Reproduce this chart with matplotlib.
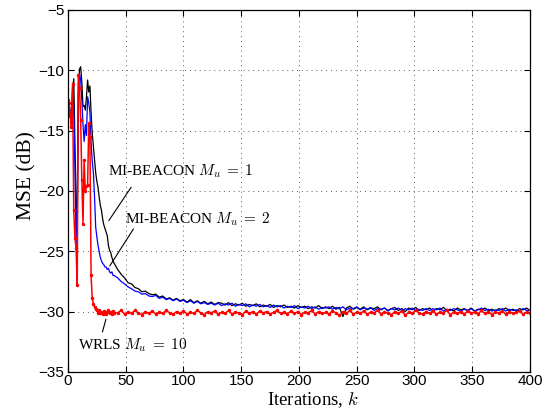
import numpy as np
import matplotlib
matplotlib.use("Agg")
import matplotlib.pyplot as plt

# iteration indices: every iteration for the transient, every 3rd for the tail
k_early = np.arange(0, 41)
k_tail = np.arange(43, 401, 3)
k = np.concatenate([k_early, k_tail])

# MI-BEACON, M_u = 1 (black)
mse_beacon1 = [
    -12.5, -12.8, -13.6, -14.5, -11.5, -10.7, -16.0, -20.5, -23.0, -12.0,
    -9.9, -9.7, -11.0, -13.0, -12.9, -13.3, -12.2, -10.8, -11.8, -11.3,
    -13.5, -15.2, -16.3, -17.4, -18.5, -19.2, -19.7, -20.5, -21.2, -21.6,
    -22.3, -22.8, -23.1, -23.4, -23.7, -24.5, -24.9, -25.1, -25.5, -25.8,
    -26.0,
    -26.5, -26.9, -27.2, -27.6, -27.7, -28.0, -28.1, -28.35, -28.3, -28.5,
    -28.6, -28.55, -28.8, -28.7, -28.95, -28.85, -29.05, -28.9, -29.1, -29.0,
    -29.2, -29.0, -29.25, -29.1, -29.3, -29.15, -29.35, -29.2, -29.4, -29.25,
    -29.3, -29.45, -29.25, -29.5, -29.35, -29.45, -29.3, -29.55, -29.4, -29.5,
    -29.35, -29.6, -29.45, -29.55, -29.4, -29.65, -29.5, -29.6, -29.45, -29.65,
    -29.55, -29.7, -29.5, -29.65, -29.55, -29.75, -29.6, -29.7, -29.5, -29.75,
    -29.6, -29.75, -29.55, -29.8, -29.65, -30.4, -29.7, -29.55, -29.8, -29.65,
    -29.8, -29.6, -29.85, -29.7, -29.75, -29.6, -29.85, -29.7, -29.9, -29.75,
    -29.65, -29.9, -29.75, -30.0, -29.7, -29.85, -29.65, -29.9, -29.75, -29.85,
    -29.7, -29.95, -29.75, -29.85, -29.65, -29.9, -29.8, -29.95, -29.7, -29.85,
    -29.75, -29.9, -29.7, -29.95, -29.8, -29.85, -29.7, -29.9, -29.8, -29.95,
    -29.75, -29.85, -29.7, -29.9, -29.8, -29.95, -29.75, -29.85, -29.7, -29.9,
]

# MI-BEACON, M_u = 2 (blue)
mse_beacon2 = [
    -12.5, -12.7, -13.8, -14.5, -11.3, -13.0, -18.0, -24.5, -21.0, -11.0,
    -10.3, -10.8, -12.5, -14.5, -15.9, -14.5, -15.4, -12.2, -12.7, -13.5,
    -16.0, -17.5, -18.5, -20.5, -23.0, -23.8, -24.5, -25.0, -25.5, -25.8,
    -26.0, -26.1, -26.3, -26.3, -26.5, -26.4, -26.7, -26.8, -26.7, -27.0,
    -27.0,
    -27.2, -27.5, -27.7, -27.95, -28.1, -28.3, -28.35, -28.55, -28.5, -28.7,
    -28.75, -28.65, -28.9, -28.8, -29.0, -28.9, -29.1, -28.95, -29.15, -29.05,
    -29.25, -29.1, -29.3, -29.15, -29.35, -29.25, -29.4, -29.3, -29.45, -29.3,
    -29.5, -29.35, -29.45, -29.3, -29.55, -29.4, -29.5, -29.35, -29.6, -29.45,
    -29.55, -29.4, -29.6, -29.5, -29.65, -29.45, -29.6, -29.5, -29.7, -29.55,
    -29.65, -29.5, -29.75, -29.6, -29.7, -29.55, -29.75, -29.6, -29.8, -29.65,
    -29.7, -29.6, -29.8, -29.65, -29.75, -29.6, -29.85, -29.7, -29.75, -29.6,
    -29.85, -29.7, -29.8, -29.65, -29.9, -29.75, -29.8, -29.7, -29.95, -29.75,
    -29.85, -29.7, -29.9, -29.75, -29.85, -29.7, -29.95, -29.8, -29.9, -29.75,
    -29.9, -29.75, -29.85, -29.7, -29.95, -29.8, -29.9, -29.75, -29.85, -29.95,
    -29.8, -29.9, -29.75, -29.95, -29.85, -29.7, -29.9, -29.8, -29.95, -29.85,
    -29.9, -29.75, -29.95, -29.8, -29.9, -29.85, -29.95, -29.75, -29.9, -29.85,
]

# WRLS, M_u = 10 (red)
mse_wrls = [
    -12.5, -12.7, -13.8, -14.7, -11.1, -21.6, -23.9, -24.7, -27.8, -10.4,
    -11.5, -14.1, -19.1, -22.7, -17.4, -20.0, -19.6, -19.5, -14.4, -15.5,
    -27.0, -28.9, -29.4, -29.6, -29.8, -29.9, -30.1, -29.9, -30.15, -30.0,
    -30.2, -29.95, -30.1, -30.2, -30.0, -29.9, -30.15, -30.0, -30.2, -29.95,
    -30.1,
    -30.1, -29.9, -30.2, -30.0, -30.15, -29.9, -30.1, -30.25, -30.0, -30.15,
    -29.95, -30.2, -30.05, -30.15, -29.9, -30.1, -30.2, -30.0, -30.15, -29.95,
    -30.2, -30.05, -30.15, -29.9, -30.1, -30.25, -30.0, -30.1, -29.95, -30.2,
    -30.05, -30.15, -29.9, -30.2, -30.05, -30.1, -30.25, -29.95, -30.15, -30.0,
    -30.2, -29.95, -30.1, -30.0, -30.2, -30.05, -29.9, -30.15, -30.05, -30.2,
    -29.95, -30.15, -30.0, -30.25, -30.05, -30.1, -29.9, -30.2, -30.0, -30.15,
    -30.05, -30.2, -29.95, -30.1, -30.3, -30.05, -30.15, -29.9, -30.2, -30.05,
    -30.15, -29.95, -30.2, -30.05, -30.1, -29.9, -30.2, -30.0, -30.15, -30.25,
    -30.0, -30.15, -29.95, -30.3, -30.05, -30.15, -29.9, -30.1, -30.2, -30.0,
    -30.15, -29.95, -30.2, -30.05, -30.1, -29.9, -30.25, -30.05, -30.15, -30.0,
    -30.2, -29.95, -30.1, -30.05, -30.2, -29.9, -30.15, -30.0, -30.25, -30.05,
    -30.1, -29.95, -30.2, -30.0, -30.15, -30.05, -29.95, -30.2, -30.05, -30.1,
]

x_ticks = [0, 50, 100, 150, 200, 250, 300, 350, 400]
y_ticks = [-35, -30, -25, -20, -15, -10, -5]

plt.rcParams['mathtext.fontset'] = 'cm'
plt.rcParams['axes.unicode_minus'] = True

fig = plt.figure(figsize=(5.46, 4.11), dpi=100)
ax = fig.add_axes([0.1245, 0.0949, 0.8462, 0.8808])

ax.plot(k, mse_beacon1, color='black', lw=0.9)
ax.plot(k, mse_beacon2, color='#0000ff', lw=0.9)
ax.plot(k, mse_wrls, color='#ff0000', lw=1.1, marker='.', ms=3)

ax.set_xlim(0, 400)
ax.set_ylim(-35, -5)
ax.set_xticks(x_ticks)
ax.set_yticks(y_ticks)
ax.grid(True, linestyle=(0, (1, 4)), color='0.35', lw=0.7)
ax.tick_params(direction='in', top=True, right=True, length=4, width=0.8,
               labelsize=11, pad=1.5)
ax.tick_params(axis='y', pad=2.5)
for lbl in ax.get_xticklabels() + ax.get_yticklabels():
    lbl.set_family('Liberation Sans')
for sp in ax.spines.values():
    sp.set_linewidth(0.9)

ax.set_xlabel('Iterations, $k$', family='Liberation Serif', fontsize=13.5)
ax.set_ylabel('MSE (dB)', family='Liberation Serif', fontsize=15.5)
ax.xaxis.set_label_coords(0.53, -0.049)
ax.yaxis.set_label_coords(-0.069, 0.544)

# curve labels with leader lines
txt_kw = dict(family='Liberation Serif', fontsize=11, va='center', ha='left')
ax.text(34.6, -18.4, r'MI-BEACON $M_u\;=\;1$', **txt_kw)
ax.text(49.4, -22.3, r'MI-BEACON $M_u\;=\;2$', **txt_kw)
ax.text(8.7, -32.8, r'WRLS $M_u\;=\;10$', **txt_kw)
line_kw = dict(arrowstyle='-', lw=0.8, color='black')
ax.annotate('', xy=(34, -22.65), xytext=(56, -19.5), arrowprops=line_kw)
ax.annotate('', xy=(34.9, -26.4), xytext=(58, -22.95), arrowprops=line_kw)
ax.annotate('', xy=(33.5, -30.4), xytext=(29.2, -31.9), arrowprops=line_kw)

fig.savefig('out.png', dpi=100)
